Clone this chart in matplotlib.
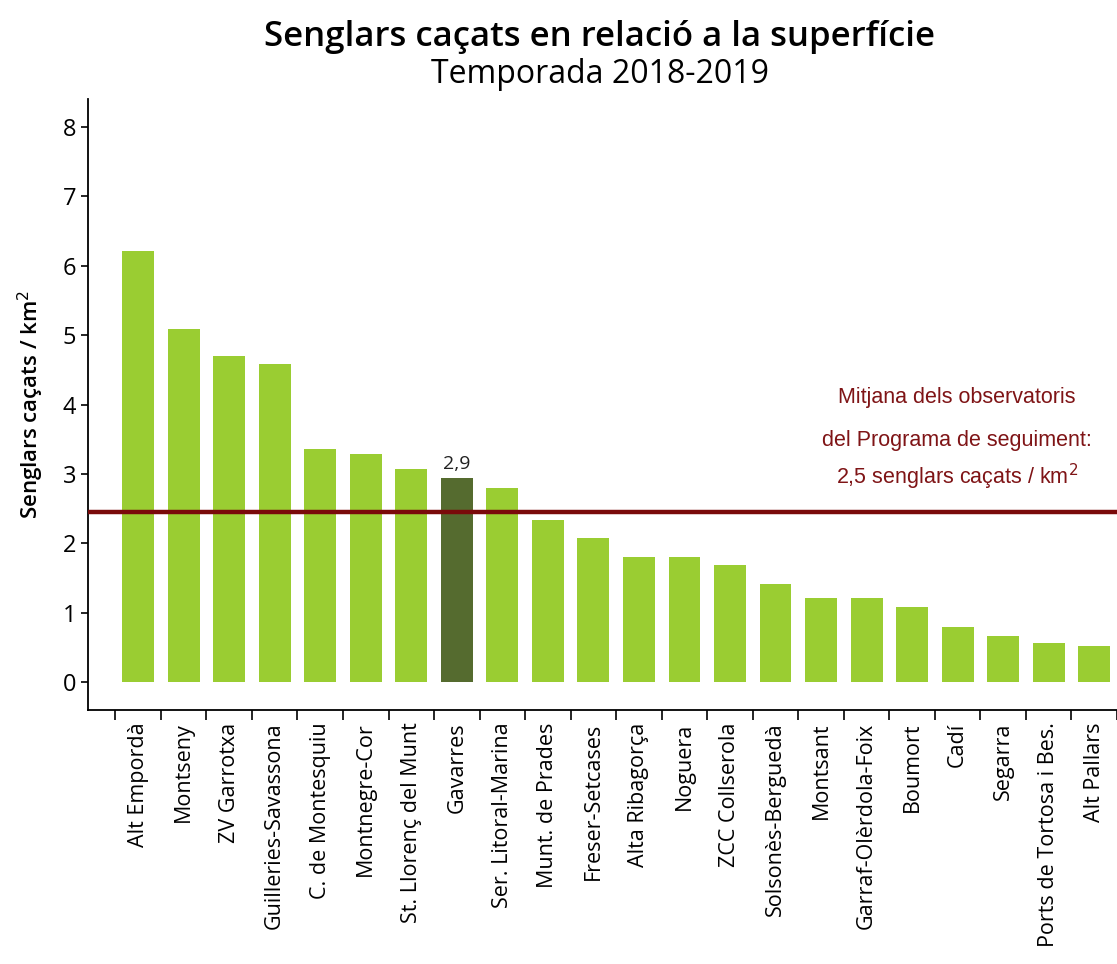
import numpy as np
import matplotlib; matplotlib.use("Agg"); import matplotlib.pyplot as plt

# dades llegides del gràfic
zones = ["Alt Empordà", "Montseny", "ZV Garrotxa", "Guilleries-Savassona", "C. de Montesquiu",
         "Montnegre-Cor", "St. Llorenç del Munt", "Gavarres", "Ser. Litoral-Marina", "Munt. de Prades",
         "Freser-Setcases", "Alta Ribagorça", "Noguera", "ZCC Collserola", "Solsonès-Berguedà",
         "Montsant", "Garraf-Olèrdola-Foix", "Boumort", "Cadí", "Segarra", "Ports de Tortosa i Bes.",
         "Alt Pallars"]
densitat = [6.21, 5.09, 4.70, 4.58, 3.36, 3.29, 3.07, 2.94, 2.80, 2.34, 2.08, 1.81, 1.80,
            1.69, 1.42, 1.22, 1.21, 1.08, 0.79, 0.67, 0.56, 0.52]
destacat = "Gavarres"
etiqueta_destacat = "2,9"
mitjana = 2.45
nota = ["Mitjana dels observatoris", "del Programa de seguiment:", "2,5 senglars caçats / km$^2$"]

FONT = ["Open Sans", "DejaVu Sans"]
plt.rcParams["font.family"] = FONT

fig = plt.figure(figsize=(11.17, 9.64), dpi=100)
ax = fig.add_axes([0.0788, 0.2635, 0.9212, 0.6335])

x = np.arange(len(zones))
cols = ["#556b2f" if z == destacat else "#9acd32" for z in zones]
ax.bar(x, densitat, width=0.70, color=cols, zorder=2)
ax.axhline(mitjana, color="#7a0a0a", lw=3.2, zorder=3)

i = zones.index(destacat)
ax.text(x[i], densitat[i] + 0.07, etiqueta_destacat, ha="center", va="bottom", fontsize=14, color="#222222")

# nota de la mitjana, una línia per text
for txt, yy in zip(nota, [4.10, 3.49, 2.96]):
    ax.text(17.98, yy, txt, ha="center", va="center", fontsize=15.5, color="#7f1416", family="Liberation Sans")

ax.set_xlim(-1.1, 21.37)
ax.set_ylim(-0.4, 8.4)
ax.set_yticks(range(0, 9))
ax.tick_params(axis="y", labelsize=17, length=5, width=1.2, direction="out")
ax.set_xticks(x)
ax.set_xticklabels(zones, rotation=90, fontsize=15.5)
ax.tick_params(axis="x", which="major", length=0, pad=9)
ax.set_xticks(np.arange(-0.5, len(zones), 1), minor=True)
ax.tick_params(axis="x", which="minor", length=7, width=1.2, direction="out")
for s in ["top", "right"]:
    ax.spines[s].set_visible(False)
for s in ["left", "bottom"]:
    ax.spines[s].set_linewidth(1.3)
ax.set_ylabel("Senglars caçats / km$^2$", fontsize=16, fontweight="semibold", labelpad=12)

fig.text(0.537, 0.962, "Senglars caçats en relació a la superfície", ha="center", va="center",
         fontsize=25, fontweight="semibold")
fig.text(0.537, 0.923, "Temporada 2018-2019", ha="center", va="center", fontsize=23)

fig.savefig("out.png", dpi=100)
